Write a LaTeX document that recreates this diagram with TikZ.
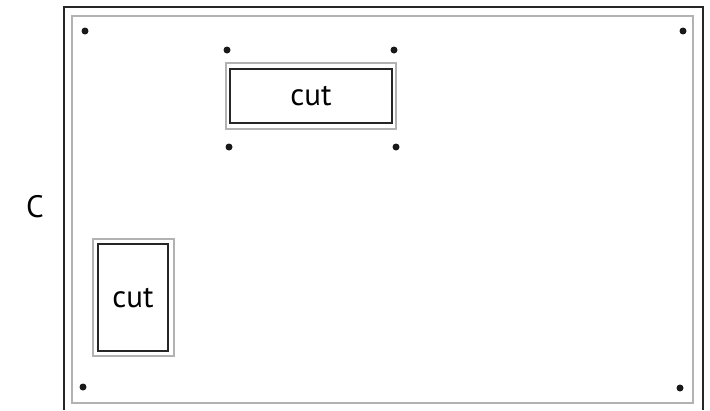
\documentclass[tikz,border=0pt]{standalone}
\usepackage{fontspec}
\setmainfont{PT Sans}
\usetikzlibrary{positioning}

\tikzset{
    frame/.style = {draw = black!85, line width = 2pt},
    margin/.style = {draw = black!30, line width = 1.8pt},
    cutbox/.style = {draw = black!85, line width = 1.2pt, fill = white},
    hole/.style = {fill = black!90},
    label/.style = {font = \fontsize{31}{34}\selectfont}
}

\begin{document}
\begin{tikzpicture}[x = 1pt, y = -1pt]
    \useasboundingbox (0,0) rectangle (710,410);
    % sheet edge and margin
    \draw[frame] (64,410) -- (64,7) -- (703,7) -- (703,410);
    \draw[margin] (72,16) rectangle (693,403);
    % corner holes
    \foreach \x/\y in {85/31, 683/31, 83/387, 680/388}
        \fill[hole] (\x,\y) circle (3.5);
    % upper cut-out
    \draw[margin] (226,63) rectangle (396,129);
    \draw[cutbox] (230,69) rectangle (392,123);
    \node[label] (cutA) at (311,96) {cut};
    \foreach \x/\y in {227/50, 394/50, 229/147, 396/147}
        \fill[hole] (\x,\y) circle (3.5);
    % lower cut-out
    \draw[margin] (93,239) rectangle (174,356);
    \draw[cutbox] (98,244) rectangle (168,351);
    \node[label] (cutB) at (133,298) {cut};
    % side mark
    \node[label] (side) at (35,207) {C};
\end{tikzpicture}
\end{document}
